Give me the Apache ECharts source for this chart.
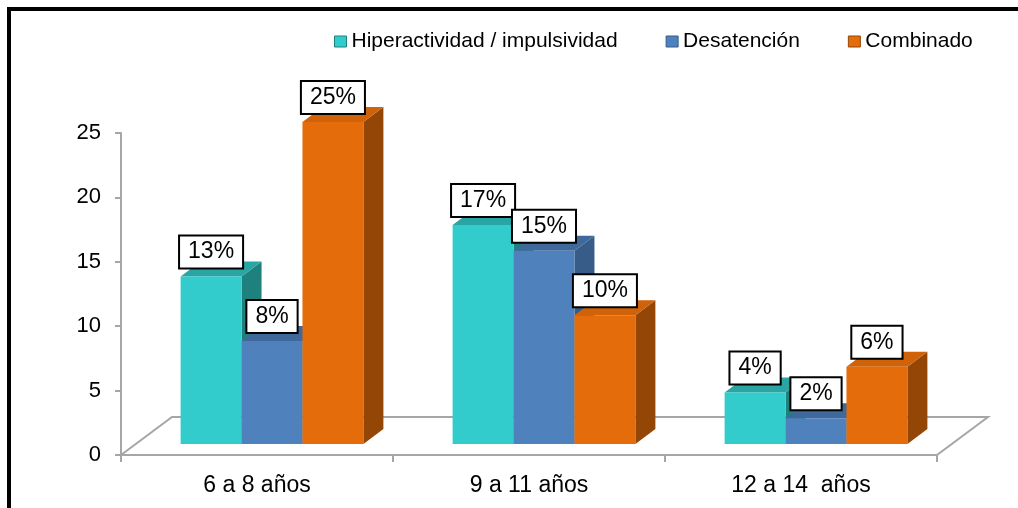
<!DOCTYPE html>
<html>
<head>
<meta charset="utf-8">
<script src="https://cdn.jsdelivr.net/npm/echarts@6/dist/echarts.min.js"></script>
<style>
  html, body { margin: 0; padding: 0; background: #fff; }
  #chart { width: 1018px; height: 508px; }
</style>
</head>
<body>
<div id="chart"></div>
<script>
const CATEGORIES = ["6 a 8 años", "9 a 11 años", "12 a 14  años"];
const SERIES_NAMES = ["Hiperactividad / impulsividad", "Desatención", "Combinado"];
const HIPERACTIVIDAD = [13, 17, 4];
const DESATENCION = [8, 15, 2];
const COMBINADO = [25, 10, 6];
const Y_TICKS = [0, 5, 10, 15, 20, 25];

const FONT = "'Liberation Sans', Arial, sans-serif";
const AXIS_GRAY = "#A6A6A6";

// front / top / side face colours of each series
const PALETTE = [
  { front: "#33CCCC", top: "#29A6A3", side: "#1F817E" },
  { front: "#4F81BD", top: "#40699B", side: "#385C88" },
  { front: "#E46C0A", top: "#D06209", side: "#934606" },
];

const BAR_SHARE = 0.224;        // bar width as a share of the category band
const FRONT_SHIFT = [15, -11];  // bars stand a little behind the axis plane
const BAR_DEPTH = [20, -15];
const FLOOR_DEPTH = [51, -38];

const seriesValues = [HIPERACTIVIDAD, DESATENCION, COMBINADO];

function makeBarRenderer(seriesIndex) {
  const colors = PALETTE[seriesIndex];
  return function (params, api) {
    const cat = api.value(0);
    const value = api.value(1);
    const top = api.coord([cat, value]);
    const base = api.coord([cat, 0]);
    const band = api.size([1, 0])[0];
    const w = band * BAR_SHARE;
    const x0 = top[0] - 1.5 * w + seriesIndex * w + FRONT_SHIFT[0];
    const x1 = x0 + w;
    const yTop = top[1] + FRONT_SHIFT[1];
    const yBase = base[1] + FRONT_SHIFT[1];
    const dx = BAR_DEPTH[0];
    const dy = BAR_DEPTH[1];
    const z = seriesIndex * 3;
    return {
      type: "group",
      children: [
        {
          type: "polygon",
          z2: z,
          shape: { points: [[x1, yBase], [x1 + dx, yBase + dy], [x1 + dx, yTop + dy], [x1, yTop]] },
          style: { fill: colors.side },
        },
        {
          type: "polygon",
          z2: z + 1,
          shape: { points: [[x0, yTop], [x1, yTop], [x1 + dx, yTop + dy], [x0 + dx, yTop + dy]] },
          style: { fill: colors.top },
        },
        {
          type: "rect",
          z2: z + 2,
          shape: { x: x0, y: yTop, width: w, height: yBase - yTop },
          style: { fill: colors.front },
        },
        {
          type: "text",
          z2: 100,
          x: (x0 + x1) / 2,
          y: yTop - 9,
          style: {
            text: value + "%",
            fill: "#000",
            fontSize: 23,
            fontFamily: FONT,
            lineHeight: 25,
            align: "center",
            verticalAlign: "bottom",
            backgroundColor: "#fff",
            borderColor: "#000",
            borderWidth: 2,
            padding: [3, 8, 3, 8],
          },
        },
      ],
    };
  };
}

function renderFloor(params, api) {
  const band = api.size([1, 0])[0];
  const left = api.coord([0, 0]);
  const right = api.coord([CATEGORIES.length - 1, 0]);
  const fl = [left[0] - band / 2, left[1]];
  const fr = [right[0] + band / 2, right[1]];
  const dx = FLOOR_DEPTH[0];
  const dy = FLOOR_DEPTH[1];
  return {
    type: "polyline",
    shape: { points: [fl, [fl[0] + dx, fl[1] + dy], [fr[0] + dx, fr[1] + dy], fr] },
    style: { stroke: AXIS_GRAY, lineWidth: 2, fill: null },
  };
}

const chart = echarts.init(document.getElementById("chart"), undefined, { renderer: "canvas" });

const series = [
  {
    type: "custom",
    name: "floor",
    silent: true,
    z: 1,
    data: [[0, 0]],
    renderItem: renderFloor,
  },
];
seriesValues.forEach((values, i) => {
  series.push({
    type: "custom",
    name: SERIES_NAMES[i],
    silent: true,
    itemStyle: { color: PALETTE[i].front },
    encode: { x: 0, y: 1 },
    data: values.map((v, idx) => [idx, v]),
    renderItem: makeBarRenderer(i),
  });
});

chart.setOption({
  animation: false,
  backgroundColor: "#fff",
  textStyle: { fontFamily: FONT },
  graphic: [
    {
      type: "rect",
      silent: true,
      shape: { x: 9, y: 9, width: 1200, height: 700 },
      style: { fill: "transparent", stroke: "#000", lineWidth: 4 },
    },
  ],
  legend: {
    left: 329,
    top: 26,
    itemWidth: 12,
    itemHeight: 11,
    itemGap: 48,
    selectedMode: false,
    textStyle: { color: "#000", fontSize: 21, fontFamily: FONT },
    data: SERIES_NAMES.map((name, i) => ({
      name,
      icon: "rect",
      itemStyle: { color: PALETTE[i].front, borderColor: PALETTE[i].side, borderWidth: 1 },
    })),
  },
  grid: { left: 121, right: 81, top: 133, bottom: 53, outerBoundsMode: "none" },
  xAxis: {
    type: "category",
    data: CATEGORIES,
    boundaryGap: true,
    axisLine: { lineStyle: { color: AXIS_GRAY, width: 2 } },
    axisTick: { show: true, length: 7, lineStyle: { color: AXIS_GRAY, width: 2 } },
    axisLabel: { color: "#000", fontSize: 23, fontFamily: FONT, margin: 19 },
    splitLine: { show: false },
  },
  yAxis: {
    type: "value",
    min: Y_TICKS[0],
    max: Y_TICKS[Y_TICKS.length - 1],
    interval: Y_TICKS[1] - Y_TICKS[0],
    axisLine: { show: true, lineStyle: { color: AXIS_GRAY, width: 2 } },
    axisTick: { show: true, length: 6, lineStyle: { color: AXIS_GRAY, width: 2 } },
    axisLabel: { color: "#000", fontSize: 22, fontFamily: FONT, margin: 20, padding: [6, 0, 0, 0] },
    splitLine: { show: false },
  },
  series,
});
</script>
</body>
</html>
